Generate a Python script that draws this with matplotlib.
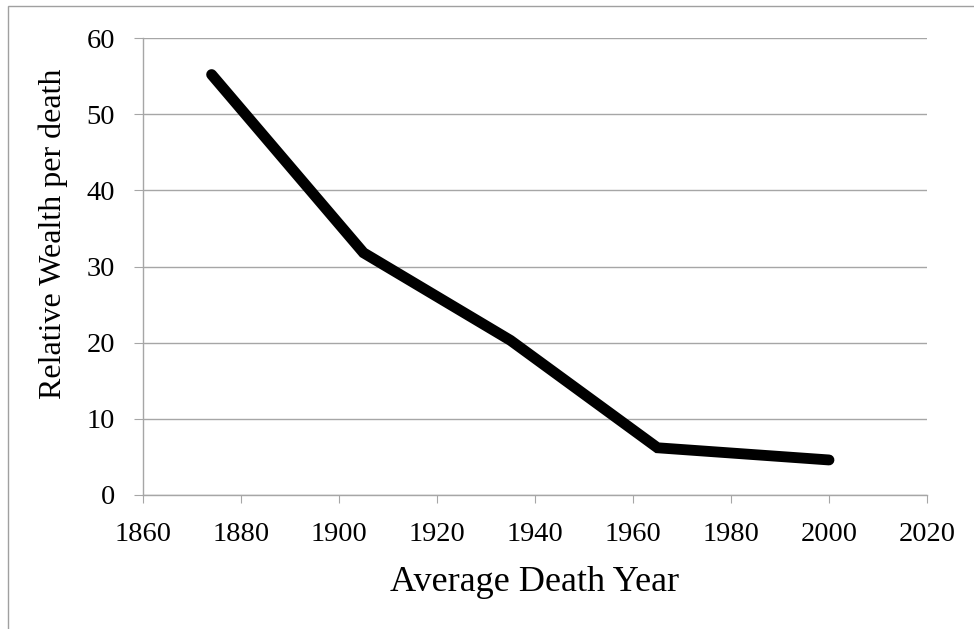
import matplotlib
matplotlib.use("Agg")
import matplotlib.pyplot as plt
from matplotlib.patches import Rectangle

years = [1874, 1905, 1935, 1965, 2000]
wealth = [55.2, 31.8, 20.3, 6.2, 4.6]
xticks = [1860, 1880, 1900, 1920, 1940, 1960, 1980, 2000, 2020]
yticks = [0, 10, 20, 30, 40, 50, 60]

plt.rcParams['font.family'] = ['Liberation Serif', 'DejaVu Serif']

fig = plt.figure(figsize=(9.74, 6.29), dpi=100)
W, H = 974, 629
ax = fig.add_axes([143 / W, 1 - 495 / H, (927 - 143) / W, (495 - 38) / H])

grid_c = '#a6a6a6'
ax.plot(years, wealth, color='black', lw=7.8, solid_capstyle='round',
        solid_joinstyle='miter', zorder=3)
ax.set_xlim(1860, 2020)
ax.set_ylim(0, 60)
ax.set_xticks(xticks)
ax.set_yticks(yticks)
ax.yaxis.grid(True, color=grid_c, lw=1.0)
ax.set_axisbelow(True)
for s in ['top', 'right']:
    ax.spines[s].set_visible(False)
for s in ['left', 'bottom']:
    ax.spines[s].set_color(grid_c)
    ax.spines[s].set_linewidth(1.0)
ax.tick_params(axis='x', direction='out', length=6, color=grid_c, labelsize=20.5, pad=13.5)
ax.tick_params(axis='y', direction='out', length=6.5, color=grid_c, labelsize=20.5, pad=13.5)

fig.text(535 / W, 1 - 591 / H, 'Average Death Year', fontsize=26,
         ha='center', va='baseline')
fig.text(53 / W, 1 - 234 / H, 'Relative Wealth per death', fontsize=23,
         ha='center', va='center', rotation=90)

fig.patches.append(Rectangle((8 / W, -0.01), (W + 10) / W, 1 - 6 / H + 0.01,
                             transform=fig.transFigure, fill=False,
                             edgecolor='#a0a0a0', lw=1.0))

fig.savefig('out.png', dpi=100)
